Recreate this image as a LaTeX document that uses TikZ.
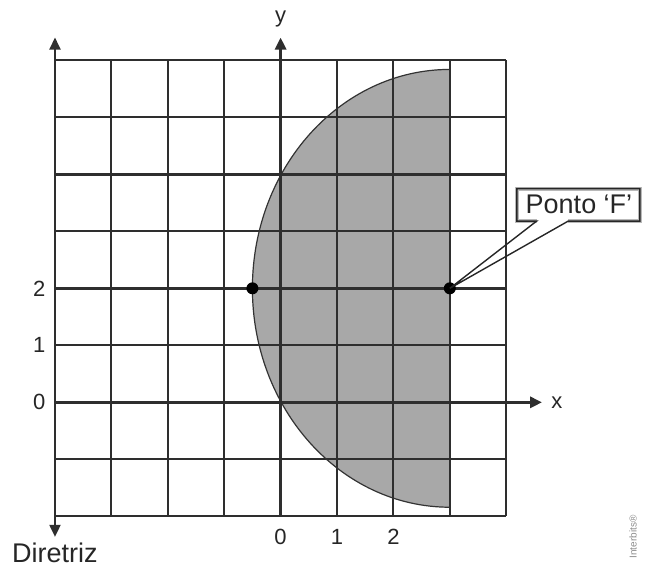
\documentclass[tikz,border=0pt]{standalone}
\usepackage{fontspec}
\setmainfont{Liberation Sans}
\usetikzlibrary{arrows.meta}
\definecolor{gridc}{HTML}{2E2E2E}
\definecolor{shadec}{HTML}{A8A8A8}
\begin{document}
\begin{tikzpicture}[x=28.2pt,y=28.5pt,
  gridline/.style={draw=gridc,line width=1pt},
  thickline/.style={draw=gridc,line width=1.4pt},
  axisline/.style={draw=gridc,line width=1.5pt},
  tipped/.style={-{Triangle[length=6pt,width=5.5pt]}},
  lbl/.style={font=\fontsize{11}{13}\selectfont,text=black!85,inner sep=0pt},
  biglbl/.style={font=\fontsize{13.5}{15}\selectfont,text=black!85,inner sep=0pt},
  dot/.style={circle,fill=black,inner sep=0pt,minimum size=6pt}]
\useasboundingbox (-4.975,-2.872) rectangle (6.496,7.058);
% shaded region
\fill[shadec] (3,5.84) arc[start angle=90,end angle=270,x radius=3.5,y radius=3.84] -- cycle;
% grid
\foreach \i in {-3,...,4} \draw[gridline] (\i,-2) -- (\i,6);
\foreach \j in {-2,-1,1,3,5,6} \draw[gridline] (-4,\j) -- (4,\j);
\foreach \j in {2,4} \draw[thickline] (-4,\j) -- (4,\j);
% curve
\draw[black!80,line width=0.6pt] (3,5.84) arc[start angle=90,end angle=270,x radius=3.5,y radius=3.84];
% axes
\coordinate (xs) at (-4,0);
\coordinate (xe) at (4.635,0);
\coordinate (ys) at (0,-2);
\coordinate (ye) at (0,6.40);
\coordinate (dt) at (-4,6.40);
\coordinate (db) at (-4,-2.36);
\draw[axisline,tipped] (xs) -- (xe);
\draw[axisline,tipped] (ys) -- (ye);
\draw[gridline,{Triangle[length=6pt,width=5.5pt]}-{Triangle[length=6pt,width=5.5pt]}] (db) -- (dt);
% points
\node[dot] (V) at (-0.5,2) {};
\node[dot] (F) at (3,2) {};
% labels
\node[lbl] (lx) at (4.90,0) {x};
\node[lbl] (ly) at (0,6.72) {y};
\node[lbl] (y2) at (-4.28,2) {2};
\node[lbl] (y1) at (-4.28,1) {1};
\node[lbl] (y0) at (-4.28,0) {0};
\node[lbl] (x0) at (0,-2.36) {0};
\node[lbl] (x1) at (1,-2.36) {1};
\node[lbl] (x2) at (2,-2.36) {2};
\node[biglbl] (dir) at (-4.0,-2.64) {Diretriz};
% callout
\coordinate (c1) at (4.54,3.18);
\coordinate (c2) at (4.19,3.18);
\coordinate (c3) at (4.19,3.75);
\coordinate (c4) at (6.37,3.75);
\coordinate (c5) at (6.37,3.18);
\coordinate (c6) at (5.10,3.18);
\draw[gray!55,line width=2pt,line join=miter] (c1) -- (c2) -- (c3) -- (c4) -- (c5) -- (c6);
\draw[black!85,line width=0.7pt,line join=miter] (F.center) -- (c1) -- (c2) -- (c3) -- (c4) -- (c5) -- (c6) -- (F.center);
\node[biglbl] (pf) at (5.29,3.465) {Ponto ‘F’};
% watermark
\node[rotate=90,font=\fontsize{5}{6}\selectfont,text=black!45,inner sep=0pt] (wm) at (6.25,-2.36) {Interbits®};
\end{tikzpicture}
\end{document}
